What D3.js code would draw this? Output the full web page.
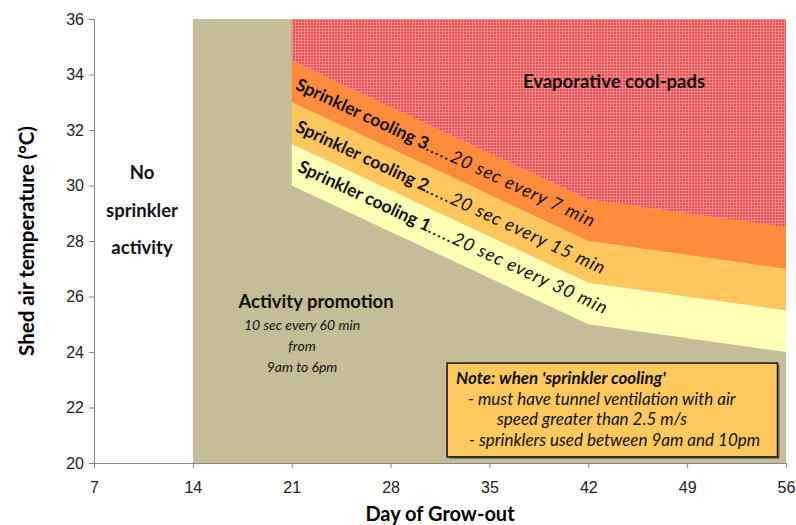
<!DOCTYPE html>
<html>
<head>
<meta charset="utf-8">
<script src="https://cdn.jsdelivr.net/npm/d3@7"></script>
<style>
  body { margin: 0; background: #fff; }
  svg { font-family: Lato, "Open Sans", sans-serif; }
  .axis text { font-size: 16px; fill: #222; }
  .axis path, .axis line { stroke: #868686; }
</style>
</head>
<body>
<svg id="chart" width="796" height="525"></svg>
<script>
// Data
const days = [21, 42, 56];
const padsBottom = [34.5, 29.5, 28.5];   // top of sprinkler cooling 3
const cool3Bottom = [33, 28, 27];
const cool2Bottom = [31.5, 26.5, 25.5];
const cool1Bottom = [30, 25, 24];
const promoStart = 14;
const xTicks = [7, 14, 21, 28, 35, 42, 49, 56];
const yTicks = [20, 22, 24, 26, 28, 30, 32, 34, 36];

const svg = d3.select("#chart");
const margin = {top: 19, right: 10, bottom: 62, left: 94};
const width = 796 - margin.left - margin.right;
const height = 525 - margin.top - margin.bottom;

const x = d3.scaleLinear().domain([7, 56]).range([0, width]);
const y = d3.scaleLinear().domain([20, 36]).range([height, 0]);

// hatch pattern for the cool-pads zone
const defs = svg.append("defs");
const pat = defs.append("pattern")
    .attr("id", "hatch")
    .attr("width", 3).attr("height", 3)
    .attr("patternUnits", "userSpaceOnUse");
pat.append("rect").attr("width", 3).attr("height", 3).attr("fill", "#EA4C50");
pat.append("rect").attr("width", 3).attr("height", 1).attr("fill", "#F48A8C");
pat.append("rect").attr("width", 1).attr("height", 3).attr("fill", "#F48A8C");

const g = svg.append("g").attr("transform", `translate(${margin.left},${margin.top})`);

// tan background from day 14
g.append("rect")
    .attr("x", x(promoStart)).attr("y", 0)
    .attr("width", x(56) - x(promoStart)).attr("height", height)
    .attr("fill", "#C4BD97");

const rows = days.map((d, i) => ({
    day: d, pads: padsBottom[i], c3: cool3Bottom[i], c2: cool2Bottom[i], c1: cool1Bottom[i]
}));

const band = (lo, hi) => d3.area()
    .x(d => x(d.day))
    .y0(d => y(lo(d)))
    .y1(d => y(hi(d)));

g.append("path").datum(rows)
    .attr("d", band(d => d.pads, d => 36))
    .attr("fill", "url(#hatch)");
g.append("path").datum(rows)
    .attr("d", band(d => d.c3, d => d.pads))
    .attr("fill", "#FF8C3C");
g.append("path").datum(rows)
    .attr("d", band(d => d.c2, d => d.c3))
    .attr("fill", "#FFC65E");
g.append("path").datum(rows)
    .attr("d", band(d => d.c1, d => d.c2))
    .attr("fill", "#FFFFB6");

// axes
g.append("g")
    .attr("class", "axis")
    .call(d3.axisLeft(y).tickValues(yTicks).tickSize(5).tickSizeOuter(0).tickPadding(5).tickFormat(d3.format("d")));

g.append("g")
    .attr("class", "axis")
    .attr("transform", `translate(0,${height})`)
    .call(d3.axisBottom(x).tickValues(xTicks).tickSize(5).tickSizeOuter(0).tickPadding(14).tickFormat(d3.format("d")));

// axis titles
svg.append("text")
    .attr("transform", `translate(34,${margin.top + height / 2}) rotate(-90)`)
    .attr("text-anchor", "middle")
    .attr("font-size", 20.5).attr("font-weight", "bold")
    .text("Shed air temperature (°C)");

svg.append("text")
    .attr("x", 440).attr("y", 521)
    .attr("text-anchor", "middle")
    .attr("font-size", 20).attr("font-weight", "bold")
    .text("Day of Grow-out");

// region labels
function lines(cx, ys, words, opts) {
    words.forEach((w, i) => {
        g.append("text")
            .attr("x", x(cx)).attr("y", y(ys[i]))
            .attr("text-anchor", "middle")
            .attr("font-size", opts.size)
            .attr("font-weight", opts.bold ? "bold" : null)
            .attr("font-style", opts.italic ? "italic" : null)
            .attr("fill", "#111")
            .text(w);
    });
}
lines(10.4, [30.25, 28.88, 27.52], ["No", "sprinkler", "activity"], {size: 18.5, bold: true});
lines(22.72, [25.6], ["Activity promotion"], {size: 18.5, bold: true});
lines(21.73, [24.78, 24.02, 23.27], ["10 sec every 60 min", "from", "9am to 6pm"], {size: 14, italic: true});
lines(43.82, [33.5], ["Evaporative cool-pads"], {size: 18.5, bold: true});

// sprinkler band labels
const bandLabels = [
    {day: 21.2, temp: 33.48, name: "Sprinkler cooling 3", rest: ".....20 sec every 7 min"},
    {day: 21.2, temp: 31.96, name: "Sprinkler cooling 2", rest: ".....20 sec every 15 min"},
    {day: 21.35, temp: 30.52, name: "Sprinkler cooling 1", rest: ".....20 sec every 30 min"}
];
bandLabels.forEach(b => {
    const t = g.append("text")
        .attr("transform", `translate(${x(b.day)},${y(b.temp)}) rotate(25)`)
        .attr("font-size", 17.5).attr("fill", "#111");
    t.append("tspan").attr("font-weight", "bold").text(b.name);
    t.append("tspan").attr("font-style", "italic").attr("font-size", 18)
        .attr("letter-spacing", 1).text(b.rest);
});

// note box
const box = {x0: 32, x1: 55.4, y0: 20.22, y1: 23.6};
g.append("rect")
    .attr("x", x(box.x0) + 2).attr("y", y(box.y1) + 2)
    .attr("width", x(box.x1) - x(box.x0)).attr("height", y(box.y0) - y(box.y1))
    .attr("fill", "#7f7a5c");
g.append("rect")
    .attr("x", x(box.x0)).attr("y", y(box.y1))
    .attr("width", x(box.x1) - x(box.x0)).attr("height", y(box.y0) - y(box.y1))
    .attr("fill", "#FFC95E").attr("stroke", "#111").attr("stroke-width", 1.5);

const noteLines = [
    {t: "Note: when 'sprinkler cooling'", dx: 9, bold: true},
    {t: "- must have tunnel ventilation with air", dx: 21},
    {t: "speed greater than 2.5 m/s", dx: 50},
    {t: "- sprinklers used between 9am and 10pm", dx: 22}
];
noteLines.forEach((l, i) => {
    g.append("text")
        .attr("x", x(box.x0) + l.dx)
        .attr("y", y(box.y1) + 21 + i * 20.5)
        .attr("font-size", 17)
        .attr("font-style", "italic")
        .attr("font-weight", l.bold ? "bold" : null)
        .attr("fill", "#111")
        .text(l.t);
});
</script>
</body>
</html>
